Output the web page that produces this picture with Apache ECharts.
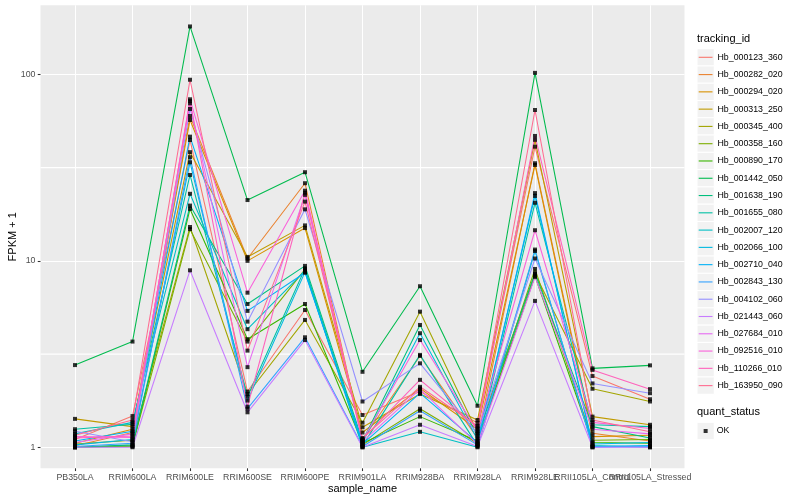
<!DOCTYPE html>
<html><head><meta charset="utf-8">
<script src="https://cdn.jsdelivr.net/npm/echarts@6/dist/echarts.min.js"></script>
<style>html,body{margin:0;padding:0;background:#fff}#c{width:800px;height:500px}</style>
</head><body><div id="c"></div>
<script>
// ---- data ----
const categories = ['PB350LA','RRIM600LA','RRIM600LE','RRIM600SE','RRIM600PE','RRIM901LA','RRIM928BA','RRIM928LA','RRIM928LE','RRII105LA_Control','RRII105LA_Stressed'];
const trackingIds = ['Hb_000123_360','Hb_000282_020','Hb_000294_020','Hb_000313_250','Hb_000345_400','Hb_000358_160','Hb_000890_170','Hb_001442_050','Hb_001638_190','Hb_001655_080','Hb_002007_120','Hb_002066_100','Hb_002710_040','Hb_002843_130','Hb_004102_060','Hb_021443_060','Hb_027684_010','Hb_092516_010','Hb_110266_010','Hb_163950_090'];
const colors = ['#F8766D','#EA8331','#D89000','#C09B00','#A3A500','#7CAE00','#39B600','#00BB4E','#00BF7D','#00C1A3','#00BFC4','#00BAE0','#00B0F6','#35A2FF','#9590FF','#C77CFF','#E76BF3','#FA62DB','#FF62BC','#FF6C91'];

const Hb_000123_360 = [1.10, 1.47, 44.5, 1.99, 5.45, 1.49, 1.99, 1.35, 41.0, 2.41, 1.81];
const Hb_000282_020 = [1.02, 1.20, 59.9, 10.3, 26.1, 1.10, 3.09, 1.12, 33.4, 1.19, 1.08];
const Hb_000294_020 = [1.05, 1.25, 57.0, 10.0, 15.0, 1.20, 2.07, 1.25, 32.7, 1.14, 1.16];
const Hb_000313_250 = [1.42, 1.29, 38.3, 10.5, 15.5, 1.28, 1.93, 1.40, 44.6, 1.46, 1.32];
const Hb_000345_400 = [1.04, 1.09, 15.2, 1.93, 4.82, 1.355, 5.34, 1.20, 8.5, 2.06, 1.76];
const Hb_000358_160 = [1.00, 1.02, 14.8, 3.69, 9.0, 1.03, 1.61, 1.05, 9.05, 1.09, 1.10];
const Hb_000890_170 = [1.00, 1.01, 19.0, 3.8, 5.87, 1.05, 1.46, 1.08, 8.3, 1.06, 1.05];
const Hb_001442_050 = [2.76, 3.69, 181, 21.2, 29.9, 2.54, 7.31, 1.67, 102, 2.65, 2.75];
const Hb_001638_190 = [1.00, 1.03, 19.8, 5.87, 9.4, 1.08, 4.53, 1.15, 8.6, 1.29, 1.12];
const Hb_001655_080 = [1.25, 1.33, 28.9, 1.87, 9.1, 1.02, 3.13, 1.02, 20.5, 1.32, 1.29];
const Hb_002007_120 = [1.18, 1.36, 22.9, 4.3, 8.86, 1.00, 1.21, 1.00, 11.3, 1.02, 1.00];
const Hb_002066_100 = [1.03, 1.10, 33.8, 1.78, 8.7, 1.06, 4.09, 1.10, 22.3, 1.04, 1.06];
const Hb_002710_040 = [1.08, 1.22, 46.4, 5.39, 8.64, 1.04, 1.95, 1.06, 23.1, 1.01, 1.02];
const Hb_002843_130 = [1.01, 1.05, 36.0, 1.61, 3.89, 1.01, 1.57, 1.03, 11.5, 1.00, 1.01];
const Hb_004102_060 = [1.22, 1.07, 65.3, 4.72, 18.9, 1.76, 2.82, 1.18, 10.3, 2.20, 1.95];
const Hb_021443_060 = [1.00, 1.00, 8.9, 1.54, 3.76, 1.00, 1.32, 1.01, 6.1, 1.00, 1.00];
const Hb_027684_010 = [1.06, 1.18, 70.0, 2.69, 22.6, 1.07, 2.05, 1.04, 8.2, 1.25, 1.18];
const Hb_092516_010 = [1.14, 1.13, 73.6, 6.75, 23.8, 1.09, 3.76, 1.22, 14.6, 1.36, 1.26];
const Hb_110266_010 = [1.12, 1.15, 72.0, 1.65, 23.2, 1.11, 2.30, 1.28, 46.8, 2.60, 2.05];
const Hb_163950_090 = [1.16, 1.40, 93.7, 3.3, 20.8, 1.12, 2.11, 1.30, 64.5, 1.40, 1.21];

const seriesValues = [Hb_000123_360,Hb_000282_020,Hb_000294_020,Hb_000313_250,Hb_000345_400,Hb_000358_160,Hb_000890_170,Hb_001442_050,Hb_001638_190,Hb_001655_080,Hb_002007_120,Hb_002066_100,Hb_002710_040,Hb_002843_130,Hb_004102_060,Hb_021443_060,Hb_027684_010,Hb_092516_010,Hb_110266_010,Hb_163950_090];

const yTickValues = [1, 10, 100];
const yMinorValues = [Math.sqrt(10), Math.sqrt(1000)];
const quantStatus = ['OK'];

// ---- chart ----
const FONT = 'Liberation Sans, Arial, Helvetica, sans-serif';
const catIdx = categories.map((c, i) => i);
const X_MIN = -0.6, X_MAX = categories.length - 1 + 0.6;
// extra empty label at the axis end so that the last real label is not treated as the "max label"
const xLabelValues = catIdx.concat([X_MAX]);
const series = [];
// minor horizontal grid lines (ggplot minor breaks); declared first so they sit under the data lines
yMinorValues.forEach((v, k) => series.push({
  type: 'line', name: 'minor' + k, data: [[X_MIN, v], [X_MAX, v]], symbol: 'none', showSymbol: false,
  silent: true, clip: false, lineStyle: { color: '#FFFFFF', width: 1.2, opacity: 1 }, emphasis: { disabled: true }
}));
seriesValues.forEach((vals, i) => series.push({
  type: 'line', name: trackingIds[i], data: vals.map((v, j) => [j, v]),
  symbol: 'none', showSymbol: false,
  lineStyle: { width: 1.07, color: colors[i] }, itemStyle: { color: colors[i] },
  emphasis: { disabled: true }
}));
const points = [];
seriesValues.forEach(vals => vals.forEach((v, j) => points.push([j, v])));
series.push({
  type: 'scatter', name: quantStatus[0], data: points, symbol: 'rect', symbolSize: 4,
  itemStyle: { color: '#000000' }, z: 5, emphasis: { disabled: true }
});

const keyH = 17.28, key0 = 48.66;
const graphics = [];
for (let i = 0; i < trackingIds.length; i++) {
  graphics.push({ type: 'rect', silent: true, z: 0,
    shape: { x: 697, y: key0 + i * keyH, width: keyH, height: keyH },
    style: { fill: '#F2F2F2', stroke: '#FFFFFF', lineWidth: 1 } });
}
graphics.push({ type: 'rect', silent: true, z: 0,
  shape: { x: 697, y: 431 - keyH / 2, width: keyH, height: keyH },
  style: { fill: '#F2F2F2', stroke: '#FFFFFF', lineWidth: 1 } });
graphics.push({ type: 'text', silent: true, x: 697, y: 39,
  style: { text: 'tracking_id', fontSize: 11, fontFamily: FONT, fill: '#000', verticalAlign: 'middle', align: 'left' } });
graphics.push({ type: 'text', silent: true, x: 697, y: 412,
  style: { text: 'quant_status', fontSize: 11, fontFamily: FONT, fill: '#000', verticalAlign: 'middle', align: 'left' } });

const yMin = Math.pow(10, -0.1129), yMax = Math.pow(10, 2.3709);
const chart = echarts.init(document.getElementById('c'), null, { renderer: 'canvas' });
chart.setOption({
  animation: false,
  backgroundColor: '#FFFFFF',
  grid: { left: 40.5, right: 115.5, top: 5.35, bottom: 31.7, show: true, backgroundColor: '#EBEBEB', borderWidth: 0,
          containLabel: false, outerBoundsMode: 'none' },
  xAxis: {
    type: 'value', min: X_MIN, max: X_MAX,
    name: 'sample_name', nameLocation: 'middle', nameGap: 15, nameMoveOverlap: false,
    nameTextStyle: { fontSize: 11, color: '#000', fontFamily: FONT },
    axisLine: { show: false, onZero: false },
    axisTick: { show: true, customValues: catIdx, length: 2.75, lineStyle: { color: '#333333', width: 1.07 } },
    axisLabel: { customValues: xLabelValues, formatter: v => { const k = Math.round(v); return (Math.abs(v - k) < 1e-6 && categories[k]) ? categories[k] : ''; },
                 fontSize: 8.8, color: '#4D4D4D', margin: 5, fontFamily: FONT, hideOverlap: false },
    splitLine: { show: true, lineStyle: { color: '#FFFFFF', width: 1.07 } }
  },
  yAxis: {
    type: 'log', logBase: 10, min: yMin, max: yMax, position: 'left',
    name: 'FPKM + 1', nameLocation: 'middle', nameGap: 22, nameRotate: 90, nameMoveOverlap: false,
    nameTextStyle: { fontSize: 11, color: '#000', fontFamily: FONT },
    axisLine: { show: false, onZero: false },
    axisTick: { show: true, customValues: yTickValues, length: 2.75, lineStyle: { color: '#333333', width: 1.07 } },
    axisLabel: { customValues: yTickValues, formatter: v => String(Math.round(v)), fontSize: 8.8, color: '#4D4D4D', margin: 5,
                 fontFamily: FONT, showMinLabel: true, showMaxLabel: true },
    splitLine: { show: true, lineStyle: { color: '#FFFFFF', width: 1.07 } },
    minorTick: { show: false }, minorSplitLine: { show: false }
  },
  legend: [{
    data: trackingIds, orient: 'vertical', left: 698.7, top: key0, itemGap: 0, padding: 0,
    itemWidth: 13.8, itemHeight: 1.1, icon: 'rect', selectedMode: false,
    itemStyle: { borderWidth: 0 },
    textStyle: { fontSize: 8.8, lineHeight: keyH, color: '#000', fontFamily: FONT }
  }, {
    data: quantStatus, orient: 'vertical', left: 697 + (keyH - 4) / 2, top: 431 - keyH / 2, itemGap: 0, padding: 0,
    itemWidth: 4, itemHeight: 4, icon: 'rect', selectedMode: false,
    itemStyle: { borderWidth: 0 },
    textStyle: { fontSize: 8.8, lineHeight: keyH, color: '#000', fontFamily: FONT, padding: [0, 0, 0, 4] }
  }],
  graphic: graphics,
  series: series
});
</script></body></html>
